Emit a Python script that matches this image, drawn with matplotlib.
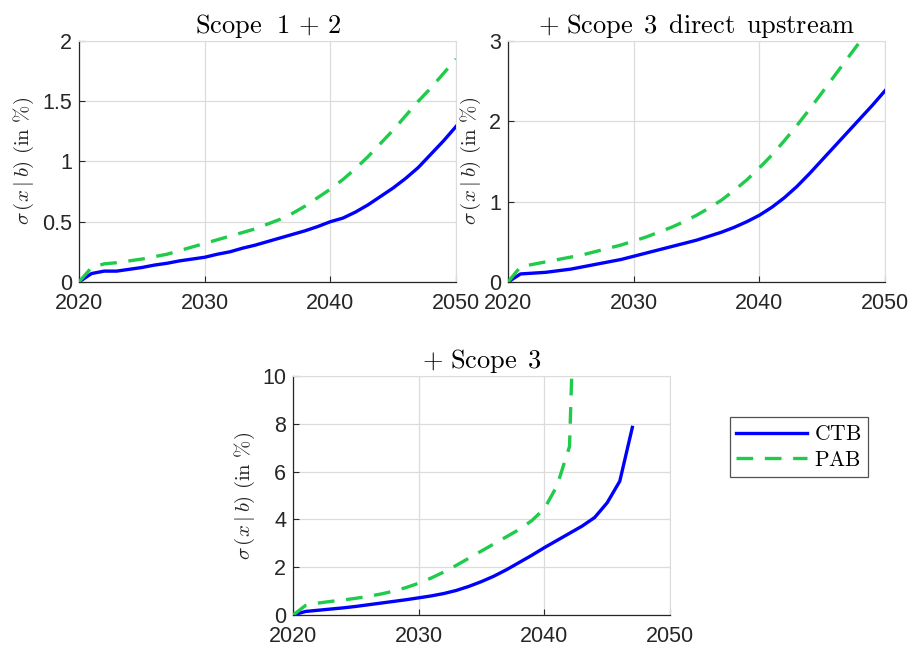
import matplotlib
matplotlib.use("Agg")
import matplotlib.pyplot as plt
import numpy as np

years = list(range(2020, 2051))

s12_ctb = [0, 0.07, 0.09, 0.09, 0.105, 0.12, 0.14, 0.155, 0.175, 0.19, 0.205,
           0.23, 0.25, 0.28, 0.305, 0.335, 0.365, 0.395, 0.425, 0.46, 0.50,
           0.53, 0.58, 0.64, 0.71, 0.78, 0.86, 0.95, 1.06, 1.17, 1.29]
s12_pab = [0, 0.12, 0.15, 0.16, 0.175, 0.19, 0.21, 0.23, 0.26, 0.29, 0.32,
           0.35, 0.38, 0.41, 0.44, 0.48, 0.52, 0.57, 0.63, 0.70, 0.77,
           0.85, 0.94, 1.04, 1.15, 1.26, 1.38, 1.50, 1.61, 1.73, 1.85]

s3u_ctb = [0, 0.10, 0.11, 0.12, 0.14, 0.16, 0.19, 0.22, 0.25, 0.28, 0.32,
           0.36, 0.40, 0.44, 0.48, 0.52, 0.57, 0.62, 0.68, 0.75, 0.83,
           0.93, 1.05, 1.19, 1.35, 1.52, 1.69, 1.86, 2.03, 2.20, 2.38]
s3u_pab = [0, 0.19, 0.22, 0.25, 0.28, 0.31, 0.34, 0.38, 0.42, 0.46, 0.51,
           0.56, 0.62, 0.68, 0.75, 0.83, 0.92, 1.02, 1.14, 1.27, 1.42,
           1.58, 1.76, 1.95, 2.15, 2.36, 2.57, 2.78, 2.99, 3.20, 3.41]

s3_years_ctb = list(range(2020, 2048))
s3_ctb = [0, 0.15, 0.20, 0.25, 0.30, 0.36, 0.43, 0.50, 0.57, 0.64, 0.72,
          0.80, 0.90, 1.03, 1.20, 1.40, 1.63, 1.90, 2.20, 2.50, 2.82,
          3.12, 3.42, 3.72, 4.08, 4.70, 5.60, 7.85]
s3_years_pab = list(range(2020, 2044))
s3_pab = [0, 0.40, 0.50, 0.57, 0.63, 0.70, 0.78, 0.88, 1.00, 1.15, 1.33,
          1.55, 1.80, 2.08, 2.38, 2.68, 2.98, 3.28, 3.58, 3.95, 4.45,
          5.40, 7.05, 24.0]

titles = [r"$\mathrm{Scope}\ \ 1\,+\,2$",
          r"$+\ \mathrm{Scope}\ \,3\ \,\mathrm{direct}\ \,\mathrm{upstream}$",
          r"$+\ \mathrm{Scope}\ \,3$"]
ylims = [2, 3, 10]
yticks = [[0, 0.5, 1, 1.5, 2], [0, 1, 2, 3], [0, 2, 4, 6, 8, 10]]
ytick_labels = [["0", "0.5", "1", "1.5", "2"], ["0", "1", "2", "3"],
                ["0", "2", "4", "6", "8", "10"]]
xticks = [2020, 2030, 2040, 2050]
labels = ["CTB", "PAB"]

plt.rcParams['mathtext.fontset'] = 'cm'
plt.rcParams['font.family'] = ['Liberation Sans', 'DejaVu Sans']

BLUE = '#0000FF'
GREEN = '#1FCB4A'

fig = plt.figure(figsize=(9.12, 6.5), dpi=100)
positions = [[0.0866, 0.5662, 0.4134, 0.3708],
             [0.5570, 0.5662, 0.4134, 0.3708],
             [0.3213, 0.0538, 0.4134, 0.3677]]

data = [((years, s12_ctb), (years, s12_pab)),
        ((years, s3u_ctb), (years, s3u_pab)),
        ((s3_years_ctb, s3_ctb), (s3_years_pab, s3_pab))]

handles = None
for i, pos in enumerate(positions):
    ax = fig.add_axes(pos)
    (xc, yc), (xp, yp) = data[i]
    h1, = ax.plot(xc, yc, color=BLUE, lw=2.4, label=labels[0], zorder=3)
    h2, = ax.plot(xp, yp, color=GREEN, lw=2.4, ls=(0, (5, 3.5)), label=labels[1], zorder=3)
    handles = [h1, h2]
    ax.set_xlim(2020, 2050)
    ax.set_ylim(0, ylims[i])
    ax.set_xticks(xticks)
    ax.set_xticklabels([str(t) for t in xticks])
    ax.set_yticks(yticks[i])
    ax.set_yticklabels(ytick_labels[i])
    ax.grid(True, color='#DCDCDC', lw=0.9)
    ax.set_axisbelow(True)
    ax.tick_params(direction='in', length=4, labelsize=15.5, colors='#262626',
                   top=False, right=False)
    ax.tick_params(axis='x', pad=8)
    ax.tick_params(axis='y', pad=5)
    for s in ['top', 'right']:
        ax.spines[s].set_color('#DCDCDC')
    for s in ['left', 'bottom']:
        ax.spines[s].set_color('#262626')
        ax.spines[s].set_linewidth(0.9)
    ax.set_title(titles[i], fontsize=19, pad=6)
    ax.set_ylabel(r"$\sigma\,(x\mid b)\ (\mathrm{in}\ \%)$", fontsize=15,
                  color='#262626', labelpad=4)

leg = fig.legend(handles, labels, loc='upper left',
                 bbox_to_anchor=(730 / 912, 1 - 417 / 650),
                 prop={'family': 'serif', 'size': 15.5}, frameon=True,
                 fancybox=False, edgecolor='#262626', handlelength=3.3,
                 borderpad=0.3, labelspacing=0.15, handletextpad=0.3,
                 borderaxespad=0)
for t in leg.get_texts():
    t.set_text(r"$\mathrm{" + t.get_text() + "}$")
leg.get_frame().set_linewidth(0.9)

fig.savefig("out.png", dpi=100)
